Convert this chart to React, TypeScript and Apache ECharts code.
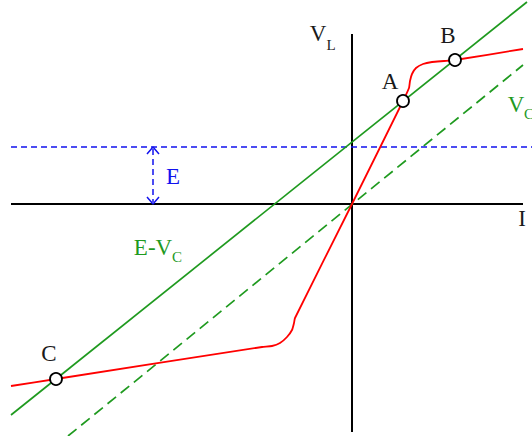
import React, { useEffect, useRef } from "react";
import * as echarts from "echarts";

// Coordinates: x = current-like quantity I, y = voltage V_L (origin at the axes crossing)
const horizontalAxis: [number, number][] = [[-341, 0], [171, 0]];
const verticalAxis: [number, number][] = [[0, 170], [0, -228]];
const eLevel: [number, number][] = [[-341, 57], [180, 57]];
const eArrowShaft: [number, number][] = [[-199, 55], [-199, 2]];
const eArrowHeadTop: [number, number][] = [[-205, 50], [-199, 57], [-193, 50]];
const eArrowHeadBottom: [number, number][] = [[-205, 7], [-199, 0], [-193, 7]];
const loadLineEVc: [number, number][] = [[-341, -211], [175, 202]];
const loadLineVc: [number, number][] = [[-284, -232], [171, 139]];
const characteristic: [number, number][] = [
  [-341, -182], [-296, -175], [-90, -143], [-80, -142], [-72, -139], [-65, -133],
  [-60, -126], [-58, -119], [-57, -114], [0, 0], [51, 103], [57, 116], [58, 123],
  [60, 130], [64, 136], [71, 140], [80, 142], [92, 143], [103, 144], [171, 155],
];
const operatingPoints: [number, number][] = [[51, 103], [103, 144], [-296, -175]];

const GREEN = "#1f9a1f";
const BLUE = "#1212ee";
const RED = "#ff0000";
const INK = "#1a1a1a";
const FONT = "'Liberation Serif', 'DejaVu Serif', serif";

function label(text: string, x: number, y: number, color: string, size: number) {
  return {
    type: "text",
    x,
    y,
    silent: true,
    style: {
      text,
      fill: color,
      font: `${size}px ${FONT}`,
      align: "center",
      verticalAlign: "middle",
    },
  };
}

function lineSeries(data: [number, number][], color: string, width: number, type: any = "solid", smooth: any = false, z = 2) {
  return {
    type: "line",
    data,
    symbol: "none",
    smooth,
    silent: true,
    z,
    lineStyle: { color, width, type },
  };
}

export default function App() {
  const ref = useRef<HTMLDivElement>(null);
  useEffect(() => {
    document.body.style.margin = "0";
    const chart = echarts.init(ref.current!, undefined, { renderer: "svg" });
    chart.setOption({
      animation: false,
      backgroundColor: "#ffffff",
      grid: { left: 0, right: 0, top: 0, bottom: 0 },
      xAxis: { type: "value", min: -352, max: 180, show: false, splitLine: { show: false } },
      yAxis: { type: "value", min: -232, max: 204, show: false, splitLine: { show: false } },
      series: [
        lineSeries(horizontalAxis, "#000000", 2),
        lineSeries(verticalAxis, "#000000", 2),
        lineSeries(eLevel, BLUE, 1.5, [6, 4]),
        lineSeries(eArrowShaft, BLUE, 1.5, [6, 4]),
        lineSeries(eArrowHeadTop, BLUE, 1.5),
        lineSeries(eArrowHeadBottom, BLUE, 1.5),
        lineSeries(loadLineEVc, GREEN, 1.7),
        lineSeries(loadLineVc, GREEN, 1.7, [11, 6]),
        lineSeries(characteristic, RED, 1.8, "solid", 0.2, 3),
        {
          type: "scatter",
          data: operatingPoints,
          symbol: "circle",
          symbolSize: 12,
          silent: true,
          z: 5,
          itemStyle: { color: "#ffffff", borderColor: "#000000", borderWidth: 1.8, opacity: 1 },
        },
      ],
      graphic: [
        label("V", 318, 33, INK, 23),
        label("L", 331, 45, INK, 15),
        label("A", 390, 81, INK, 23),
        label("B", 448, 35, INK, 23),
        label("C", 49, 353, INK, 23),
        label("I", 522, 218, INK, 23),
        label("E", 173, 176, BLUE, 23),
        label("E-V", 153, 247, GREEN, 23),
        label("C", 177, 257, GREEN, 15),
        label("V", 516, 104, GREEN, 23),
        label("C", 529, 114, GREEN, 15),
      ],
    });
    return () => chart.dispose();
  }, []);
  return (
    <div
      ref={ref}
      style={{ position: "fixed", left: 0, top: 0, width: 532, height: 436 }}
    />
  );
}
